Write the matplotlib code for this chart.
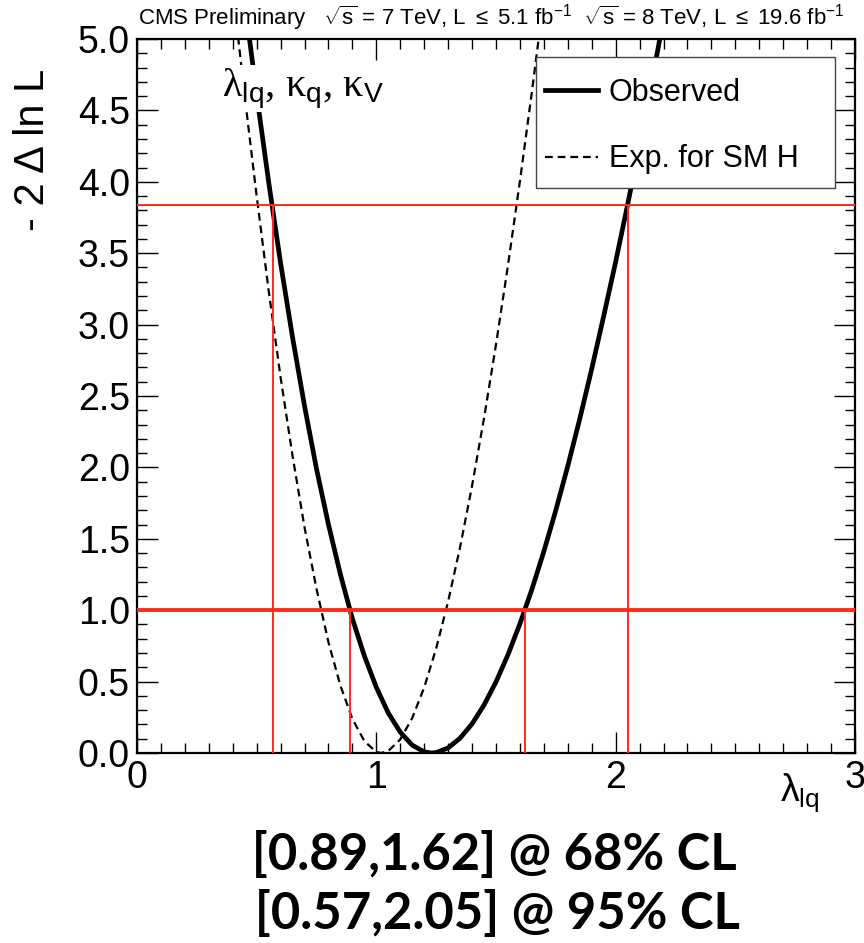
import numpy as np
import matplotlib.pyplot as plt
from matplotlib.ticker import MultipleLocator, FormatStrFormatter
from matplotlib.patches import Rectangle

plt.rcParams['font.family'] = ['Liberation Sans', 'DejaVu Sans']
plt.rcParams['mathtext.fontset'] = 'custom'
plt.rcParams['mathtext.rm'] = 'Liberation Sans'
plt.rcParams['mathtext.it'] = 'Liberation Sans'

# observed scan, -2 Delta ln L vs lambda_lq
obs_x = [0.45, 0.50, 0.55, 0.60, 0.65, 0.70, 0.75, 0.80, 0.85, 0.90, 0.95, 1.00,
         1.05, 1.10, 1.15, 1.20, 1.23, 1.25, 1.30, 1.35, 1.40, 1.45, 1.50, 1.55,
         1.60, 1.65, 1.70, 1.75, 1.80, 1.85, 1.90, 1.95, 2.00, 2.05, 2.10, 2.15, 2.20]
obs_y = [5.26, 4.61, 4.00, 3.43, 2.91, 2.43, 1.99, 1.60, 1.25, 0.94, 0.68, 0.46,
         0.28, 0.146, 0.055, 0.008, 0.0, 0.003, 0.036, 0.104, 0.204, 0.336, 0.498, 0.688,
         0.905, 1.146, 1.412, 1.70, 2.01, 2.34, 2.69, 3.06, 3.44, 3.84, 4.26, 4.69, 5.14]

# expected for SM Higgs
exp_x = [0.40, 0.42, 0.45, 0.50, 0.55, 0.60, 0.65, 0.70, 0.75, 0.80, 0.85, 0.90,
         0.95, 1.00, 1.02, 1.05, 1.10, 1.15, 1.20, 1.25, 1.30, 1.35, 1.40, 1.45,
         1.50, 1.55, 1.60, 1.65, 1.70]
exp_y = [5.36, 5.05, 4.60, 3.90, 3.24, 2.63, 2.08, 1.58, 1.15, 0.775, 0.471, 0.239,
         0.083, 0.007, 0.0, 0.014, 0.095, 0.245, 0.459, 0.732, 1.061, 1.442, 1.871, 2.345,
         2.86, 3.415, 4.005, 4.63, 5.285]

cl68 = [0.89, 1.62]
cl95 = [0.57, 2.05]
thr68 = 1.0
thr95 = 3.84

red = '#ff2b1c'

fig = plt.figure(figsize=(8.64, 9.43), dpi=100)
ax = fig.add_axes([137/864, 1-753/943, 718/864, 714/943])

ax.plot(obs_x, obs_y, color='black', lw=3.4, label='Observed', zorder=3)
ax.plot(exp_x, exp_y, color='black', lw=1.6, ls=(0, (3.5, 2.2)), label='Exp. for SM H', zorder=3)

ax.axhline(thr95, color=red, lw=1.4, zorder=4)
ax.axhline(thr68, color=red, lw=2.8, zorder=4)
ax.vlines(cl95, 0, thr95, color=red, lw=1.4, zorder=4)
ax.vlines(cl68, 0, thr68, color=red, lw=1.4, zorder=4)

ax.set_xlim(0, 3)
ax.set_ylim(0, 5)
ax.xaxis.set_major_locator(MultipleLocator(1))
ax.xaxis.set_minor_locator(MultipleLocator(0.1))
ax.yaxis.set_major_locator(MultipleLocator(0.5))
ax.yaxis.set_minor_locator(MultipleLocator(0.1))
ax.yaxis.set_major_formatter(FormatStrFormatter('%.1f'))
ax.tick_params(which='both', direction='in', top=True, right=True, width=1.0, labelsize=27)
ax.tick_params(which='major', length=15, pad=5)
ax.tick_params(which='minor', length=7.5)
for s in ax.spines.values():
    s.set_linewidth(1.6)

# legend box
ax.add_patch(Rectangle((0.556, 0.791), 0.416, 0.1835, transform=ax.transAxes,
                       facecolor='white', edgecolor='#444444', lw=1.0, zorder=5))
leg = ax.legend(loc='upper left', bbox_to_anchor=(0.568, 0.946), frameon=False,
                fontsize=22, handlelength=1.75, handletextpad=0.35,
                labelspacing=1.2, borderpad=0, borderaxespad=0)
leg.set_zorder(6)

ax.text(0.118, 0.931, r'λ$_{\mathrm{lq}}$, κ$_{\mathrm{q}}$, κ$_{\mathrm{V}}$',
        transform=ax.transAxes, fontsize=29, family=['Liberation Serif', 'DejaVu Serif'],
        va='center', zorder=6,
        bbox=dict(facecolor='white', edgecolor='none', pad=1))

fig.text(33/864, 1-150/943, '- 2 Δ ln L', rotation=90, ha='center', va='center', fontsize=30)
fig.text(800/864, 1-793/943, r'$\lambda_{\mathrm{lq}}$', ha='center', va='center', fontsize=27)

fig.text(138/864, 1-18/943,
         r'CMS Preliminary   $\sqrt{s}$ = 7 TeV, L $\leq$ 5.1 fb$^{-1}$  $\sqrt{s}$ = 8 TeV, L $\leq$ 19.6 fb$^{-1}$',
         ha='left', va='center', fontsize=16, family=['Liberation Sans Narrow', 'Liberation Sans'])

fig.text(494/864, 1-855/943, '[0.89,1.62] @ 68% CL', ha='center', va='center',
         fontsize=36.5, fontweight='bold', family=['Lato', 'DejaVu Sans'])
fig.text(497/864, 1-914/943, '[0.57,2.05] @ 95% CL', ha='center', va='center',
         fontsize=36.5, fontweight='bold', family=['Lato', 'DejaVu Sans'])

fig.savefig('out.png', dpi=100)
